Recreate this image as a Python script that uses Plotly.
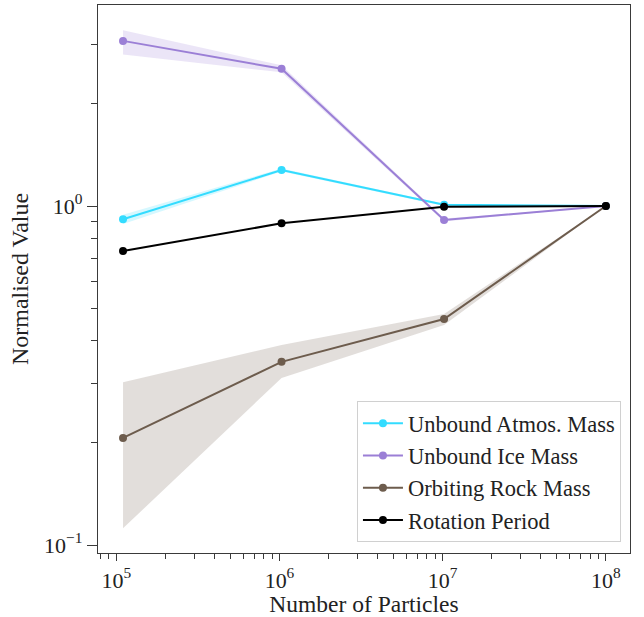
import plotly.graph_objects as go

particles = [1.1e5, 1.03e6, 1.02e7, 1e8]

names = ["Unbound Atmos. Mass", "Unbound Ice Mass", "Orbiting Rock Mass", "Rotation Period"]

atmos = [0.914, 1.277, 1.008, 1.0]
atmos_hi = [0.942, 1.29, 1.015, 1.0]
atmos_lo = [0.885, 1.265, 1.0, 1.0]

ice = [3.07, 2.54, 0.909, 1.0]
ice_hi = [3.30, 2.60, 0.918, 1.0]
ice_lo = [2.80, 2.48, 0.900, 1.0]

rock = [0.207, 0.347, 0.464, 1.0]
rock_hi = [0.302, 0.389, 0.480, 1.0]
rock_lo = [0.112, 0.311, 0.446, 1.0]

rot = [0.737, 0.889, 0.995, 1.0]

line_colors = ["#33dcff", "#9b7fd6", "#6d5c4d", "#000000"]
fill_colors = ["rgba(51,220,255,0.2)", "rgba(155,127,214,0.2)", "rgba(109,92,77,0.2)"]

x_major = [1e5, 1e6, 1e7, 1e8]
x_major_text = ["10<sup>5</sup>", "10<sup>6</sup>", "10<sup>7</sup>", "10<sup>8</sup>"]
y_major = [0.1, 1.0]
y_major_text = ["10<sup>\u22121</sup>", "10<sup>0</sup>"]

x_minor = [m * 10 ** e for e in range(4, 9) for m in range(2, 10)]
y_minor = [m * 10 ** e for e in range(-2, 1) for m in range(2, 10)]

FONT = "Liberation Serif"

fig = go.Figure()

bands = [(atmos_hi, atmos_lo), (ice_hi, ice_lo), (rock_hi, rock_lo)]
for (hi, lo), fc in zip(bands, fill_colors):
    fig.add_trace(go.Scatter(
        x=particles + particles[::-1], y=hi + lo[::-1],
        fill="toself", fillcolor=fc, line=dict(width=0),
        mode="lines", showlegend=False, hoverinfo="skip"))

for name, vals, col in zip(names, [atmos, ice, rock, rot], line_colors):
    fig.add_trace(go.Scatter(
        x=particles, y=vals, name=name, mode="lines+markers",
        line=dict(color=col, width=2), marker=dict(color=col, size=8)))

axis_common = dict(
    showgrid=False, zeroline=False, showline=True, mirror=True,
    linecolor="#3a3a3a", linewidth=1.3, ticks="outside", tickcolor="#3a3a3a",
    tickwidth=1.3, tickfont=dict(family=FONT, size=22, color="#222222"),
    tickmode="array", automargin=False,
)

fig.update_xaxes(
    type="log", range=[4.888, 8.148], tickvals=x_major, ticktext=x_major_text,
    ticklen=7,
    minor=dict(tickmode="array", tickvals=x_minor, ticks="outside", ticklen=5,
               tickwidth=1.1, tickcolor="#3a3a3a"),
    title=dict(text="Number of Particles", font=dict(family=FONT, size=23.5, color="#222222"),
               standoff=11),
    **axis_common)

fig.update_yaxes(
    type="log", range=[-1.0236, 0.593], tickvals=y_major, ticktext=y_major_text,
    ticklen=10,
    minor=dict(tickmode="array", tickvals=y_minor, ticks="outside", ticklen=6,
               tickwidth=1.1, tickcolor="#3a3a3a"),
    title=dict(text="Normalised Value", font=dict(family=FONT, size=24, color="#222222"),
               standoff=8),
    **axis_common)

fig.update_layout(
    width=644, height=617,
    margin=dict(l=98, r=14, t=5, b=64),
    paper_bgcolor="white", plot_bgcolor="white",
    font=dict(family=FONT, size=22, color="#222222"),
    legend=dict(x=0.983, y=0.02, xanchor="right", yanchor="bottom",
                bgcolor="rgba(255,255,255,0.85)", bordercolor="#d0d0d0", borderwidth=1,
                font=dict(family=FONT, size=22.5, color="#222222"),
                tracegroupgap=0, itemwidth=40),
)

fig.write_html("out.html")
